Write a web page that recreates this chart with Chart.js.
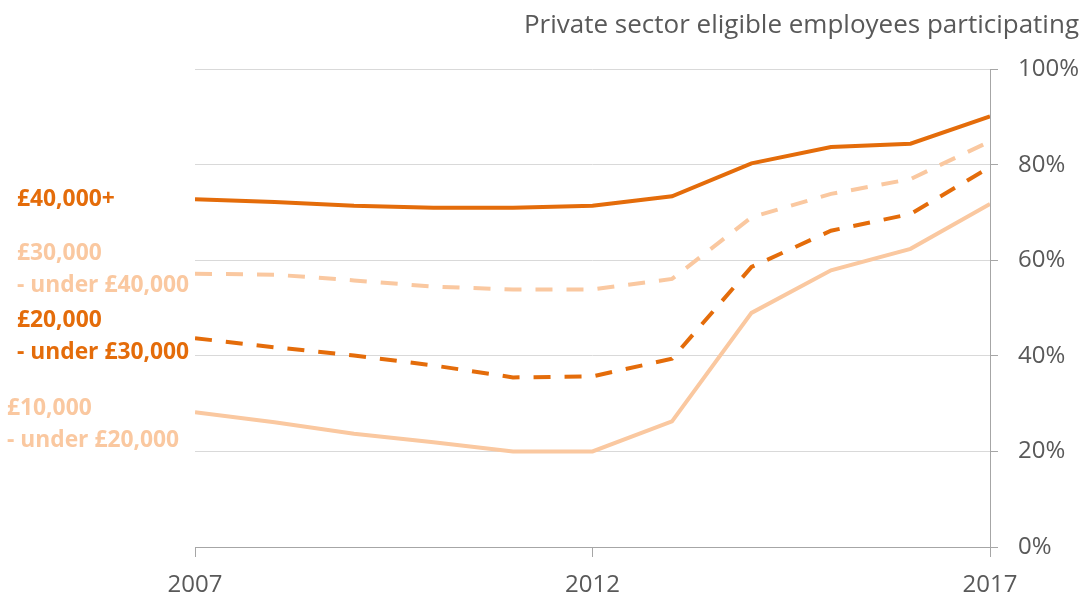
<!DOCTYPE html>
<html>
<head>
<meta charset="utf-8">
<script src="https://cdn.jsdelivr.net/npm/chart.js@4"></script>
<style>
  body { margin: 0; background: #fff; }
  #wrap { position: relative; width: 1083px; height: 594px; }
  .band { position: absolute; font-family: 'Open Sans', sans-serif; font-weight: bold; font-size: 22.8px; line-height: 32px; white-space: nowrap; }
  .dark { color: #E46C0A; }
  .light { color: #FAC8A0; }
</style>
</head>
<body>
<div id="wrap">
  <canvas id="chart"></canvas>
  <div class="band dark" style="left:17px; top:182px">£40,000+</div>
  <div class="band light" style="left:17px; top:236px">£30,000<br>- under £40,000</div>
  <div class="band dark" style="left:17px; top:303px">£20,000<br>- under £30,000</div>
  <div class="band light" style="left:7px; top:391px">£10,000<br>- under £20,000</div>
</div>
<script>
const years = [2007, 2008, 2009, 2010, 2011, 2012, 2013, 2014, 2015, 2016, 2017]
const band40 = [72.8, 72.2, 71.4, 71.0, 71.0, 71.4, 73.4, 80.3, 83.7, 84.4, 90.1]
const band30 = [57.2, 57.0, 55.8, 54.5, 53.9, 53.9, 56.1, 69.0, 73.9, 77.0, 84.9]
const band20 = [43.7, 41.8, 40.1, 38.0, 35.5, 35.7, 39.4, 58.6, 66.2, 69.7, 79.5]
const band10 = [28.2, 26.1, 23.7, 21.9, 20.0, 20.0, 26.3, 49.0, 57.9, 62.4, 71.8]
const xTicks = [2007, 2012, 2017]
const yTicks = [0, 20, 40, 60, 80, 100]

const dark = '#E46C0A'
const light = '#FAC8A0'
const grey = '#595959'
const font = 'Open Sans'

const toPoints = vals => vals.map((v, i) => ({ x: years[i], y: v }))

function series(label, vals, color, dashed) {
    return {
        label: label,
        data: toPoints(vals),
        borderColor: color,
        borderWidth: 4,
        borderDash: dashed ? [17, 14] : [],
        pointRadius: 0,
        tension: 0,
        fill: false
    }
}

new Chart(document.getElementById('chart'), {
    type: 'line',
    data: {
        datasets: [
            series('£10,000 - under £20,000', band10, light, false),
            series('£20,000 - under £30,000', band20, dark, true),
            series('£30,000 - under £40,000', band30, light, true),
            series('£40,000+', band40, dark, false)
        ]
    },
    options: {
        responsive: true,
        maintainAspectRatio: false,
        animation: false,
        layout: { padding: { left: 195, right: 4, top: 0, bottom: 0 } },
        plugins: {
            legend: { display: false },
            tooltip: { enabled: false },
            title: {
                display: true,
                text: 'Private sector eligible employees participating',
                align: 'end',
                color: grey,
                font: { family: font, size: 26, weight: 'normal', lineHeight: 1.2 },
                padding: { top: 10, bottom: 28 }
            }
        },
        scales: {
            x: {
                type: 'linear',
                min: 2007,
                max: 2017,
                afterBuildTicks: axis => { axis.ticks = xTicks.map(v => ({ value: v })) },
                afterFit: axis => { axis.height = 47 },
                grid: { drawOnChartArea: false, tickLength: 10, color: '#a6a6a6' },
                border: { color: '#a6a6a6', width: 1 },
                ticks: {
                    color: grey,
                    font: { family: font, size: 24, lineHeight: 1.0 },
                    maxRotation: 0,
                    padding: 16,
                    callback: v => String(v)
                }
            },
            y: {
                position: 'right',
                min: 0,
                max: 100,
                afterBuildTicks: axis => { axis.ticks = yTicks.map(v => ({ value: v })) },
                afterFit: axis => { axis.width = 89 },
                grid: { color: '#d9d9d9', tickColor: '#a6a6a6', tickLength: 8, lineWidth: 1 },
                border: { color: '#a6a6a6', width: 1 },
                ticks: {
                    color: grey,
                    font: { family: font, size: 24 },
                    padding: 20,
                    callback: v => v + '%'
                }
            }
        }
    }
})
</script>
</body>
</html>
